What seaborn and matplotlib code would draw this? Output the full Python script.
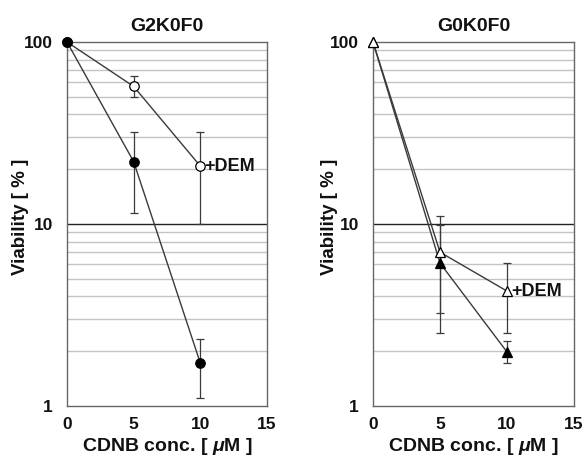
import numpy as np
import pandas as pd
import matplotlib
matplotlib.use("Agg")
import matplotlib.pyplot as plt
import seaborn as sns

# concentrations (uM)
conc = [0, 5, 10]

# G2K0F0 panel
g2_ctrl = [100, 22, 1.72]
g2_ctrl_lo = [100, 11.5, 1.1]
g2_ctrl_hi = [100, 32, 2.33]
g2_dem = [100, 57, 20.8]
g2_dem_lo = [100, 50, 10]
g2_dem_hi = [100, 65, 32]

# G0K0F0 panel
g0_ctrl = [100, 6.1, 1.98]
g0_ctrl_lo = [100, 2.52, 1.72]
g0_ctrl_hi = [100, 9.9, 2.27]
g0_dem = [100, 7.0, 4.28]
g0_dem_lo = [100, 3.24, 2.52]
g0_dem_hi = [100, 11.1, 6.1]

titles = ["G2K0F0", "G0K0F0"]

sns.set_style("white")
plt.rcParams["font.family"] = ["Liberation Sans", "DejaVu Sans"]
plt.rcParams["font.weight"] = "bold"
plt.rcParams["text.color"] = "#111111"
plt.rcParams["axes.labelcolor"] = "#111111"
plt.rcParams["xtick.labelcolor"] = "#111111"
plt.rcParams["ytick.labelcolor"] = "#111111"
plt.rcParams["mathtext.fontset"] = "custom"
plt.rcParams["mathtext.it"] = "Liberation Sans:italic:bold"
plt.rcParams["mathtext.rm"] = "Liberation Sans:bold"

fig = plt.figure(figsize=(5.86, 4.63), dpi=100)
W, H = 586, 463
ax1 = fig.add_axes([67 / W, 1 - 406 / H, 200 / W, 364 / H])
ax2 = fig.add_axes([373 / W, 1 - 406 / H, 201 / W, 364 / H])

line_col = "#3a3a3a"


def draw_series(ax, y, lo, hi, marker, face, z):
    df = pd.DataFrame({"conc": conc, "viab": y})
    yerr = np.array([np.array(y) - np.array(lo), np.array(hi) - np.array(y)])
    ax.errorbar(conc[1:], y[1:], yerr=yerr[:, 1:], fmt="none", ecolor=line_col,
                elinewidth=0.9, capsize=3, capthick=0.9, zorder=3)
    sns.lineplot(data=df, x="conc", y="viab", ax=ax, color=line_col, lw=1.0,
                 marker=marker, markersize=6.8 if marker == "o" else 7.8,
                 markerfacecolor=face, markeredgecolor="black",
                 markeredgewidth=0.9, clip_on=False, zorder=z)


panels = [
    (ax1, g2_ctrl, g2_ctrl_lo, g2_ctrl_hi, g2_dem, g2_dem_lo, g2_dem_hi, "o", (5, 4)),
    (ax2, g0_ctrl, g0_ctrl_lo, g0_ctrl_hi, g0_dem, g0_dem_lo, g0_dem_hi, "^", (4, 5)),
]
label_x = [-0.23, -0.218]

for i, (ax, c, clo, chi, d, dlo, dhi, mk, zs) in enumerate(panels):
    ax.set_yscale("log")
    ax.set_ylim(1, 100)
    ax.set_xlim(0, 15)
    # gridlines
    for v in list(range(2, 10)) + list(range(20, 100, 10)):
        ax.axhline(v, color="#c4c4c4", lw=1.0, zorder=0)
    ax.axhline(10, color="#222222", lw=1.0, zorder=1)
    draw_series(ax, c, clo, chi, mk, "black", zs[0])
    draw_series(ax, d, dlo, dhi, mk, "white", zs[1])
    ax.text(10.3, d[2], "+DEM", fontsize=13, fontweight="bold",
            va="center", ha="left")
    ax.set_xticks([0, 5, 10, 15])
    ax.set_yticks([1, 10, 100])
    ax.set_yticklabels(["1", "10", "100"])
    ax.yaxis.set_minor_locator(matplotlib.ticker.NullLocator())
    ax.tick_params(axis="y", labelsize=12.5, length=0, pad=10)
    ax.tick_params(axis="x", labelsize=12.5, direction="in", length=3,
                   color="#555555", pad=8)
    for lab in ax.get_xticklabels() + ax.get_yticklabels():
        lab.set_fontweight("bold")
    for s in ax.spines.values():
        s.set_color("#666666")
        s.set_linewidth(1.0)
    ax.set_xlabel("CDNB conc. [ $\\mu$M ]", fontsize=14, fontweight="bold",
                  labelpad=3)
    ax.set_ylabel("Viability [ % ]", fontsize=13.5, fontweight="bold")
    ax.yaxis.set_label_coords(label_x[i], 0.52)
    ax.yaxis.label.set_verticalalignment("center")
    ax.set_title(titles[i], fontsize=14, fontweight="bold", pad=8)

fig.savefig("out.png", dpi=100)
